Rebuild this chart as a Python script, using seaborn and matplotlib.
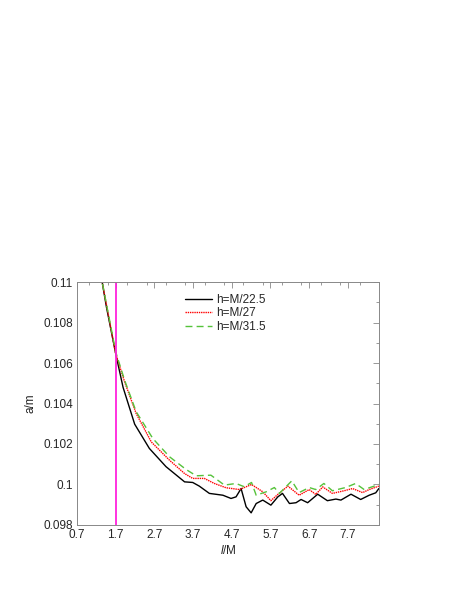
import numpy as np
import pandas as pd
import matplotlib
matplotlib.use('Agg')
import matplotlib.pyplot as plt
import seaborn as sns
from matplotlib.ticker import MultipleLocator

sns.set_style('white')
plt.rcParams['font.family'] = ['Liberation Sans', 'DejaVu Sans']
plt.rcParams['mathtext.fontset'] = 'custom'
plt.rcParams['mathtext.it'] = 'Liberation Sans:italic'
plt.rcParams['mathtext.rm'] = 'Liberation Sans'

# Data
x_a = [1.30, 1.35, 1.46, 1.70, 1.89, 2.19, 2.57, 3.00, 3.48, 3.69, 3.86, 4.12, 4.47, 4.68,
       4.81, 4.94, 5.07, 5.20, 5.33, 5.50, 5.71, 5.89, 6.01, 6.19, 6.36, 6.49, 6.66,
       6.92, 7.17, 7.39, 7.52, 7.78, 8.03, 8.25, 8.42, 8.50]
y_a = [0.1110, 0.1100, 0.10877, 0.10646, 0.10480, 0.10298, 0.10178, 0.10088, 0.10013,
       0.10010, 0.09992, 0.09956, 0.09947, 0.09931, 0.09939, 0.09980, 0.09890, 0.09860,
       0.09906, 0.09923, 0.09898, 0.09939, 0.09956, 0.09906, 0.09910, 0.09926, 0.09910,
       0.09952, 0.09920, 0.09928, 0.09923, 0.09952, 0.09926, 0.09947, 0.09959, 0.09980]

x_b = [1.30, 1.35, 1.70, 1.93, 2.23, 2.62, 3.09, 3.48, 3.69, 3.99, 4.25, 4.55, 4.90,
       5.21, 5.50, 5.71, 5.89, 6.15, 6.44, 6.70, 6.87, 7.05, 7.30, 7.60, 7.82, 8.08,
       8.25, 8.50]
y_b = [0.1110, 0.1100, 0.10646, 0.10507, 0.10350, 0.10210, 0.10120, 0.10054, 0.10030,
       0.10030, 0.10005, 0.09984, 0.09975, 0.10000, 0.09964, 0.09920, 0.09951, 0.09992,
       0.09947, 0.09975, 0.09951, 0.09988, 0.09956, 0.09969, 0.09980, 0.09960, 0.09975,
       0.09992]

x_c = [1.30, 1.35, 1.70, 1.93, 2.23, 2.66, 3.09, 3.52, 3.78, 4.16, 4.51, 4.81, 5.02,
       5.21, 5.33, 5.59, 5.80, 5.93, 6.25, 6.44, 6.70, 6.87, 7.08, 7.30, 7.64, 7.90,
       8.12, 8.50]
y_c = [0.1110, 0.1100, 0.10655, 0.10515, 0.10359, 0.10227, 0.10137, 0.10074, 0.10043,
       0.10046, 0.09997, 0.10005, 0.09989, 0.10010, 0.09947, 0.09964, 0.09985, 0.09956,
       0.10018, 0.09960, 0.09985, 0.09975, 0.10005, 0.09969, 0.09985, 0.10005, 0.09975,
       0.10000]

labels = ['h=M/22.5', 'h=M/27', 'h=M/31.5']
x_mark = 1.7
x_ticks = [0.7, 1.7, 2.7, 3.7, 4.7, 5.7, 6.7, 7.7]
y_ticks = [0.098, 0.1, 0.102, 0.104, 0.106, 0.108, 0.11]
y_tick_labels = ['0.098', '0.1', '0.102', '0.104', '0.106', '0.108', '0.11']

fig = plt.figure(figsize=(4.57, 5.91), dpi=100)
ax = fig.add_axes([0.1685, 0.1117, 0.6605, 0.4111])

sns.lineplot(x=x_a, y=y_a, ax=ax, color='black', lw=1.0, label=labels[0], sort=False)
sns.lineplot(x=x_b, y=y_b, ax=ax, color='red', lw=1.0, ls=(0, (1, 0.6)), label=labels[1], sort=False)
sns.lineplot(x=x_c, y=y_c, ax=ax, color='#55c23a', lw=1.0, ls=(0, (5, 3)), label=labels[2], sort=False)
ax.axvline(x_mark, color='#ff22dd', lw=1.3)

ax.set_xlim(0.7, 8.5)
ax.set_ylim(0.098, 0.11)
ax.set_xticks(x_ticks)
ax.set_xticklabels([f'{v:.1f}' for v in x_ticks])
ax.set_yticks(y_ticks)
ax.set_yticklabels(y_tick_labels)
ax.xaxis.set_minor_locator(MultipleLocator(0.5))
ax.yaxis.set_minor_locator(MultipleLocator(0.001))
ax.tick_params(which='both', direction='in', top=True, right=True, color='#888888',
               labelsize=8.5, pad=3)
ax.tick_params(which='major', length=4, width=0.6)
ax.tick_params(which='minor', length=2, width=0.6)
for s in ax.spines.values():
    s.set_color('#888888')
    s.set_linewidth(0.7)

ax.set_xlabel('$l$/M', fontsize=8.5, labelpad=2)
ax.set_ylabel('a/m', fontsize=8.5, labelpad=5)

ax.legend(loc='upper left', bbox_to_anchor=(0.325, 0.99), frameon=False, fontsize=8.5,
          handlelength=2.3, handletextpad=0.4, labelspacing=0.12, borderpad=0.3)

plt.savefig('out.png', dpi=100)
plt.close()
